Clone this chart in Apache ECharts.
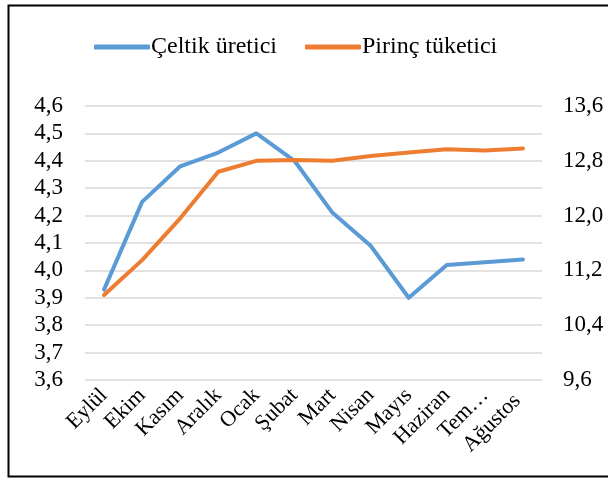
<!DOCTYPE html>
<html>
<head>
<meta charset="utf-8">
<script src="https://cdn.jsdelivr.net/npm/echarts@6/dist/echarts.min.js"></script>
<style>
  html, body { margin: 0; padding: 0; background: #fff; }
  #chart { width: 608px; height: 478px; }
</style>
</head>
<body>
<div id="chart"></div>
<script>
// aylar
var months = ['Eylül', 'Ekim', 'Kasım', 'Aralık', 'Ocak', 'Şubat', 'Mart', 'Nisan', 'Mayıs', 'Haziran', 'Tem…', 'Ağustos'];
// sol eksen
var celtikUretici = [3.93, 4.25, 4.38, 4.43, 4.50, 4.40, 4.21, 4.09, 3.90, 4.02, 4.03, 4.04];
// sag eksen
var pirincTuketici = [10.84, 11.35, 11.96, 12.64, 12.80, 12.81, 12.80, 12.87, 12.92, 12.97, 12.95, 12.98];

var serif = '"Liberation Serif", "Times New Roman", serif';

function comma(v) {
  return v.toFixed(1).replace('.', ',');
}

// Ağustos etiketi excelde biraz asagida duruyor
var monthData = months.map(function (m) {
  if (m === 'Ağustos') {
    return { value: m, textStyle: { padding: [16, 8, 0, 0] } };
  }
  return m;
});

var chart = echarts.init(document.getElementById('chart'));
chart.setOption({
  animation: false,
  color: ['#5B9BD5', '#ED7D31'],
  textStyle: { fontFamily: serif },
  graphic: [{
    type: 'rect',
    shape: { x: 8.5, y: 5.5, width: 620, height: 471 },
    style: { fill: 'none', stroke: '#000', lineWidth: 2 }
  }],
  legend: {
    left: 89,
    top: 30,
    icon: 'roundRect',
    itemWidth: 56,
    itemHeight: 5,
    itemGap: 28,
    textStyle: { fontFamily: serif, fontSize: 24, color: '#000', padding: [0, 0, 0, -4] },
    data: ['Çeltik üretici', 'Pirinç tüketici']
  },
  grid: { left: 85, right: 66, top: 106, bottom: 98 },
  xAxis: {
    type: 'category',
    data: monthData,
    boundaryGap: true,
    axisLine: { show: false },
    axisTick: { show: false },
    axisLabel: {
      interval: 0,
      rotate: 45,
      margin: 12,
      fontFamily: serif,
      fontSize: 22,
      color: '#000'
    }
  },
  yAxis: [{
    type: 'value',
    min: 3.6,
    max: 4.6,
    interval: 0.1,
    axisLine: { show: false },
    axisTick: { show: false },
    splitLine: { lineStyle: { color: '#D9D9D9', width: 1.5 } },
    axisLabel: {
      margin: 22,
      fontFamily: serif,
      fontSize: 23,
      color: '#000',
      formatter: comma
    }
  }, {
    type: 'value',
    min: 9.6,
    max: 13.6,
    interval: 0.8,
    axisLine: { show: false },
    axisTick: { show: false },
    splitLine: { show: false },
    axisLabel: {
      margin: 21,
      fontFamily: serif,
      fontSize: 23,
      color: '#000',
      formatter: comma
    }
  }],
  series: [{
    name: 'Çeltik üretici',
    type: 'line',
    yAxisIndex: 0,
    data: celtikUretici,
    symbol: 'none',
    lineStyle: { width: 4, cap: 'round', join: 'round' }
  }, {
    name: 'Pirinç tüketici',
    type: 'line',
    yAxisIndex: 1,
    data: pirincTuketici,
    symbol: 'none',
    lineStyle: { width: 4, cap: 'round', join: 'round' }
  }]
});
</script>
</body>
</html>
